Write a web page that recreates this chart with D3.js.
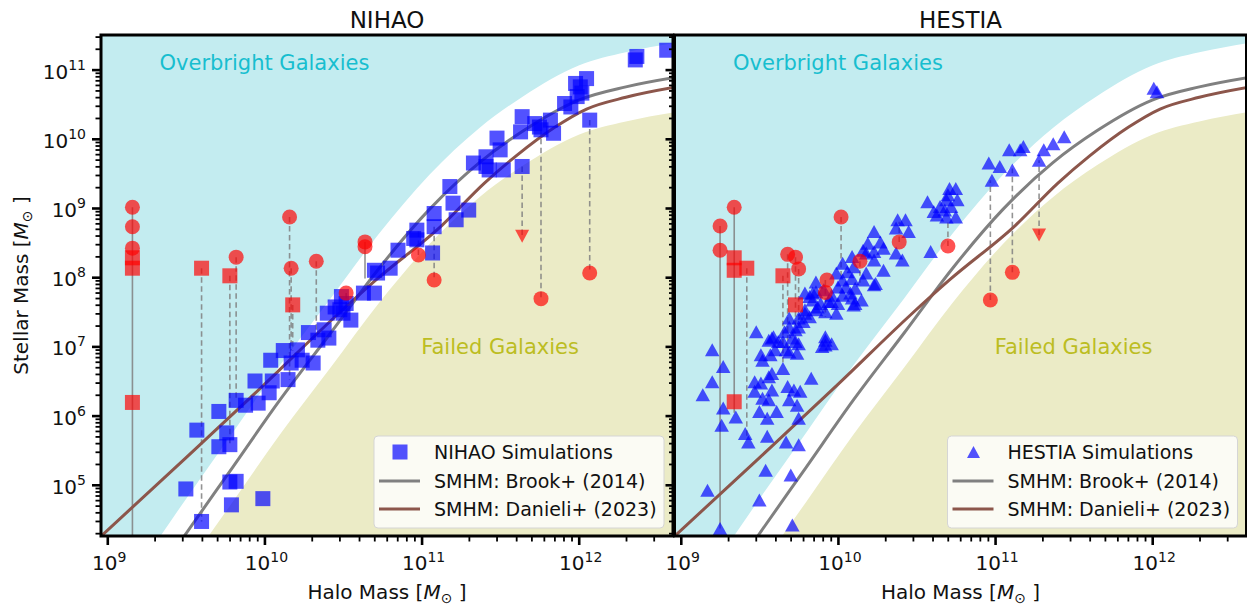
<!DOCTYPE html>
<html><head><meta charset="utf-8">
<script src="https://cdn.jsdelivr.net/npm/d3@7"></script>
<style>
body{margin:0;background:#fff;}
svg{display:block;}
text{font-family:"DejaVu Sans",sans-serif;fill:#111;}
</style>
</head><body>
<svg id="c" width="1247" height="606"></svg>
<script>
// ---------------- DATA (log10 of masses in solar masses) ----------------
const xLimitsLog = [8.96, 12.6];
const yLimitsLog = [4.26, 11.5];
const xMajorExps = [9, 10, 11, 12];
const yMajorExps = [5, 6, 7, 8, 9, 10, 11];
const BAND_DEX = 0.5;

// SMHM: Brook+ (2014)
const brookLogMh = [8.9, 9.2, 9.49, 9.8, 10.1, 10.42, 10.73, 11.05, 11.37, 11.65, 12.0, 12.3, 12.65];
const brookLogMs = [2.31, 3.30, 4.26, 5.26, 6.23, 7.19, 8.13, 8.98, 9.66, 10.12, 10.56, 10.75, 10.90];
// SMHM: Danieli+ (2023)
const danieliLogMh = [8.9, 9.5, 10.0, 10.46, 10.71, 11.13, 11.40, 11.6, 11.85, 12.05, 12.3, 12.65];
const danieliLogMs = [4.13, 5.39, 6.45, 7.45, 7.96, 8.75, 9.36, 9.75, 10.17, 10.43, 10.6, 10.76];

// NIHAO simulations
const nihaoLogMh = [9.50,9.60,9.57,9.71,9.76,9.71,9.78,9.78,9.82,9.79,9.99,9.82,9.88,9.96,9.94,10.03,10.05,10.04,10.12,10.15,10.17,10.21,10.24,10.31,10.28,10.34,10.38,10.41,10.40,10.45,10.48,10.55,10.50,10.49,10.52,10.63,10.70,10.70,10.72,10.80,10.85,10.97,10.95,10.97,11.07,11.08,11.08,11.18,11.20,11.22,11.30,11.33,11.41,11.41,11.43,11.48,11.50,11.52,11.64,11.63,11.64,11.72,11.75,11.82,11.84,11.76,11.91,11.95,11.98,11.99,12.01,12.05,12.02,12.07,12.36,12.37,12.56];
const nihaoLogMs = [4.94,4.47,5.79,6.06,5.75,5.55,5.58,5.04,5.05,4.71,4.80,6.22,6.15,6.18,6.50,6.33,6.50,6.80,6.94,6.52,6.76,6.95,6.80,6.76,7.20,7.09,7.24,7.12,7.48,7.57,7.53,7.38,7.48,7.72,7.62,7.77,7.77,8.10,8.06,8.13,8.39,8.68,8.56,8.54,8.35,8.92,8.73,9.31,9.07,8.83,8.97,9.65,9.74,9.60,9.55,10.01,9.84,9.55,9.60,10.10,10.32,10.22,10.17,10.27,10.08,10.13,10.51,10.46,10.80,10.61,10.75,10.87,10.66,10.27,11.14,11.19,11.28];
// NIHAO panel: observed counterparts (red)
const nihaoObsCircleMh = [9.16,9.16,9.16,9.82,10.16,10.17,10.33,10.52,10.64,10.64,10.98,11.08,11.76,12.07];
const nihaoObsCircleMs = [9.01,8.73,8.42,8.29,8.87,8.13,8.23,7.77,8.51,8.44,8.32,7.96,7.69,8.06];
const nihaoObsSquareMh = [9.16,9.16,9.16,9.60,9.78,10.18];
const nihaoObsSquareMs = [8.28,8.13,6.19,8.13,8.02,7.60];
const nihaoObsLimitMh = [11.64];
const nihaoObsLimitMs = [8.59];
// NIHAO panel: vertical connectors
const nihaoLinkMh   = [9.16,9.60,9.78,9.82,10.16,10.17,10.18,10.33,10.52,10.64,10.98,11.08,11.64,11.76,12.07];
const nihaoLinkFrom = [9.01,8.13,8.02,8.29,8.87,8.13,7.60,8.23,7.77,8.51,8.32,8.73,9.60,10.13,10.27];
const nihaoLinkTo   = [4.0,4.47,5.58,6.22,6.52,6.94,6.94,7.20,7.48,7.98,8.66,7.96,8.59,7.69,8.06];
const nihaoLinkSolid= [1,0,0,0,0,0,0,0,0,1,0,0,0,0,0];

// HESTIA simulations
const hestiaLogMh = [9.20,9.27,9.20,9.14,9.27,9.35,9.26,9.41,9.43,9.17,9.25,9.50,9.54,9.70,9.71,9.55,9.67,9.75,9.47,9.47,9.51,9.57,9.58,9.65,9.68,9.72,9.76,9.69,9.74,9.75,9.52,9.56,9.61,9.50,9.55,9.83,9.74,9.65,9.92,9.96,9.48,9.52,9.58,9.66,9.67,9.73,9.69,9.75,9.84,9.82,9.86,9.91,9.79,9.87,9.92,9.96,9.92,9.90,10.08,10.11,10.23,9.56,9.58,9.51,9.59,9.62,9.56,9.71,9.69,9.60,9.78,9.82,9.69,9.73,9.75,9.86,9.99,9.79,9.84,9.89,9.94,10.00,10.10,9.79,9.96,10.03,10.09,10.15,9.86,10.00,10.05,10.11,9.99,10.03,10.09,10.16,10.03,10.10,10.06,10.18,10.29,10.09,10.16,10.23,10.19,10.27,10.29,10.23,10.24,10.23,10.18,10.41,10.37,10.38,10.43,10.37,10.45,10.59,10.57,10.61,10.63,10.68,10.69,10.71,10.75,10.70,10.76,10.72,10.65,10.75,10.69,10.96,11.03,10.98,11.11,11.09,11.16,11.18,11.28,11.31,11.37,11.44,12.01,12.03,9.75,9.92];
const hestiaLogMs = [6.95,6.71,6.49,6.30,6.11,5.98,5.86,5.74,5.62,4.92,4.37,4.78,5.21,5.14,4.42,5.70,5.62,5.58,6.49,6.35,6.88,6.88,6.61,6.68,6.42,6.37,6.35,6.23,6.15,5.96,6.25,6.23,6.06,6.06,5.96,6.54,6.90,7.07,7.02,7.04,7.21,6.80,7.12,7.21,6.95,7.07,7.41,7.28,7.77,7.72,7.79,7.82,7.48,7.57,7.50,7.65,7.09,7.00,7.77,7.62,7.89,6.56,6.37,6.47,7.14,7.07,7.09,7.12,6.92,6.95,7.36,7.43,7.28,7.24,7.41,7.53,7.48,7.53,7.67,7.62,7.65,7.62,7.60,7.77,7.74,7.74,7.70,7.67,7.93,7.86,7.86,7.84,8.06,7.96,7.98,7.96,8.20,8.15,8.08,8.06,8.10,8.30,8.39,8.37,8.49,8.51,8.42,8.66,7.91,8.25,8.35,8.25,8.35,8.83,8.83,8.71,8.66,8.37,9.09,8.95,8.90,8.97,9.12,9.28,9.28,9.19,9.12,9.02,9.02,8.87,8.87,9.65,9.60,9.40,9.55,9.84,9.84,9.89,9.69,9.84,9.93,10.03,10.73,10.68,7.04,7.14];
// HESTIA panel: observed counterparts (red)
const hestiaObsCircleMh = [9.25,9.34,9.25,9.68,9.73,9.75,10.02,9.93,9.92,10.14,10.39,10.70,10.97,11.11];
const hestiaObsCircleMs = [8.74,9.01,8.39,8.33,8.29,8.12,8.87,7.96,7.78,8.23,8.51,8.45,7.67,8.07];
const hestiaObsSquareMh = [9.34,9.34,9.42,9.65,9.73,9.34];
const hestiaObsSquareMs = [8.28,8.10,8.13,8.02,7.60,6.20];
const hestiaObsLimitMh = [11.28];
const hestiaObsLimitMs = [8.61];
// HESTIA panel: vertical connectors
const hestiaLinkMh   = [9.25,9.34,9.42,9.65,9.68,9.73,9.75,9.92,10.02,10.14,10.39,10.70,10.97,11.11,11.28];
const hestiaLinkFrom = [8.74,9.01,8.13,8.02,8.33,8.29,8.12,7.96,8.87,8.23,8.51,8.45,7.67,8.07,8.61];
const hestiaLinkTo   = [4.37,6.04,5.70,6.75,6.90,7.28,7.30,7.43,7.96,7.92,8.80,8.83,9.40,9.57,9.69];
const hestiaLinkSolid= [1,1,0,0,0,0,0,0,0,0,0,0,0,0,0];

const legendLabels = ["Simulations", "SMHM: Brook+ (2014)", "SMHM: Danieli+ (2023)"];

// ---------------- STYLE / LAYOUT ----------------
const TOP = 35, BOTTOM = 536;
const C_CYAN_FILL = "#c3ecf0", C_OLIVE_FILL = "#ebebc6";
const C_CYAN_TEXT = "#17becf", C_OLIVE_TEXT = "#bcbd22";
const C_GREY = "#808080", C_BROWN = "#8c564b";
const C_BLUE = "#0000ff", C_RED = "#ff0000";

const svg = d3.select("#c");
const defs = svg.append("defs");

const zip = (a, b) => a.map((v, i) => [v, b[i]]);

function triPath(w, h, down) {
  const s = down ? -1 : 1;
  return `M0,${-s*h/2}L${w/2},${s*h/2}L${-w/2},${s*h/2}Z`;
}

const panels = [
  {id: "nihao", title: "NIHAO", x0: 101, x1: 673, yLabels: true, marker: "square",
   simMh: nihaoLogMh, simMs: nihaoLogMs,
   cMh: nihaoObsCircleMh, cMs: nihaoObsCircleMs, sMh: nihaoObsSquareMh, sMs: nihaoObsSquareMs,
   tMh: nihaoObsLimitMh, tMs: nihaoObsLimitMs,
   lMh: nihaoLinkMh, lFrom: nihaoLinkFrom, lTo: nihaoLinkTo, lSolid: nihaoLinkSolid},
  {id: "hestia", title: "HESTIA", x0: 674.5, x1: 1246.5, yLabels: false, marker: "triangle",
   simMh: hestiaLogMh, simMs: hestiaLogMs,
   cMh: hestiaObsCircleMh, cMs: hestiaObsCircleMs, sMh: hestiaObsSquareMh, sMs: hestiaObsSquareMs,
   tMh: hestiaObsLimitMh, tMs: hestiaObsLimitMs,
   lMh: hestiaLinkMh, lFrom: hestiaLinkFrom, lTo: hestiaLinkTo, lSolid: hestiaLinkSolid}
];

function drawPanel(p) {
  const x = d3.scaleLog().domain(xLimitsLog.map(v => 10 ** v)).range([p.x0, p.x1]);
  const y = d3.scaleLog().domain(yLimitsLog.map(v => 10 ** v)).range([BOTTOM, TOP]);
  const X = v => x(10 ** v), Y = v => y(10 ** v);

  const clipId = "clip-" + p.id;
  defs.append("clipPath").attr("id", clipId).append("rect")
    .attr("x", p.x0).attr("y", TOP).attr("width", p.x1 - p.x0).attr("height", BOTTOM - TOP);

  const g = svg.append("g");
  const pg = g.append("g").attr("clip-path", `url(#${clipId})`);

  pg.append("rect").attr("x", p.x0).attr("y", TOP).attr("width", p.x1 - p.x0)
    .attr("height", BOTTOM - TOP).attr("fill", "#fff");

  const brook = zip(brookLogMh, brookLogMs);
  const dani = zip(danieliLogMh, danieliLogMs);

  // shaded regions (Brook +/- band)
  pg.append("path").datum(brook)
    .attr("d", d3.area().x(d => X(d[0])).y0(y.range()[1]).y1(d => Y(d[1] + BAND_DEX)).curve(d3.curveMonotoneX))
    .attr("fill", C_CYAN_FILL);
  pg.append("path").datum(brook)
    .attr("d", d3.area().x(d => X(d[0])).y0(y.range()[0]).y1(d => Y(d[1] - BAND_DEX)).curve(d3.curveMonotoneX))
    .attr("fill", C_OLIVE_FILL);

  // region labels
  pg.append("text").attr("x", X(10)).attr("y", Y(11)).attr("text-anchor", "middle")
    .attr("font-size", 21).style("fill", C_CYAN_TEXT).text("Overbright Galaxies");
  pg.append("text").attr("x", X(11.5)).attr("y", Y(7) + 7.5).attr("text-anchor", "middle")
    .attr("font-size", 21).style("fill", C_OLIVE_TEXT).text("Failed Galaxies");

  // connectors
  const links = p.lMh.map((m, i) => ({m, a: p.lFrom[i], b: p.lTo[i], solid: p.lSolid[i]}));
  pg.selectAll("line.link").data(links).join("line").attr("class", "link")
    .attr("x1", d => X(d.m)).attr("x2", d => X(d.m))
    .attr("y1", d => Y(d.a)).attr("y2", d => Y(d.b))
    .attr("stroke", C_GREY).attr("stroke-width", 1.6).attr("stroke-opacity", 0.85)
    .attr("stroke-dasharray", d => d.solid ? null : "5.5,3.5");

  // SMHM curves
  const line = d3.line().x(d => X(d[0])).y(d => Y(d[1])).curve(d3.curveMonotoneX);
  pg.append("path").datum(brook).attr("d", line).attr("fill", "none")
    .attr("stroke", C_GREY).attr("stroke-width", 3);
  pg.append("path").datum(dani).attr("d", line).attr("fill", "none")
    .attr("stroke", C_BROWN).attr("stroke-width", 3);

  // simulations
  const sims = zip(p.simMh, p.simMs);
  if (p.marker === "square") {
    pg.selectAll("rect.sim").data(sims).join("rect").attr("class", "sim")
      .attr("x", d => X(d[0]) - 7.5).attr("y", d => Y(d[1]) - 7.5)
      .attr("width", 15).attr("height", 15)
      .attr("fill", C_BLUE).attr("fill-opacity", 0.68);
  } else {
    pg.selectAll("path.sim").data(sims).join("path").attr("class", "sim")
      .attr("d", triPath(14.5, 13, false))
      .attr("transform", d => `translate(${X(d[0])},${Y(d[1])})`)
      .attr("fill", C_BLUE).attr("fill-opacity", 0.68);
  }

  // observations (red)
  pg.selectAll("circle.obs").data(zip(p.cMh, p.cMs)).join("circle").attr("class", "obs")
    .attr("cx", d => X(d[0])).attr("cy", d => Y(d[1])).attr("r", 7.5)
    .attr("fill", C_RED).attr("fill-opacity", 0.68);
  pg.selectAll("rect.obs").data(zip(p.sMh, p.sMs)).join("rect").attr("class", "obs")
    .attr("x", d => X(d[0]) - 7.5).attr("y", d => Y(d[1]) - 7.5).attr("width", 15).attr("height", 15)
    .attr("fill", C_RED).attr("fill-opacity", 0.68);
  pg.selectAll("path.obs").data(zip(p.tMh, p.tMs)).join("path").attr("class", "obs")
    .attr("d", triPath(14, 13, true))
    .attr("transform", d => `translate(${X(d[0])},${Y(d[1])})`)
    .attr("fill", C_RED).attr("fill-opacity", 0.68);

  // axes ticks
  const xMinor = [], yMinor = [];
  for (let k = 8; k <= 12; k++) for (let m = 2; m <= 9; m++) {
    const v = m * 10 ** k;
    if (Math.log10(v) > xLimitsLog[0] && Math.log10(v) < xLimitsLog[1]) xMinor.push(v);
  }
  for (let k = 4; k <= 11; k++) for (let m = 2; m <= 9; m++) {
    const v = m * 10 ** k;
    if (Math.log10(v) > yLimitsLog[0] && Math.log10(v) < yLimitsLog[1]) yMinor.push(v);
  }
  const ax = g.append("g");
  const tick = (sel) => { sel.select(".domain").remove(); sel.selectAll("text").remove(); sel.selectAll("line").attr("stroke", "#000"); };
  ax.append("g").attr("transform", `translate(0,${BOTTOM})`)
    .call(d3.axisBottom(x).tickValues(xMinor).tickSize(5.5).tickFormat(""))
    .call(tick).selectAll("line").attr("stroke-width", 1.8);
  ax.append("g").attr("transform", `translate(0,${BOTTOM})`)
    .call(d3.axisBottom(x).tickValues(xMajorExps.map(e => 10 ** e)).tickSize(9).tickFormat(""))
    .call(tick).selectAll("line").attr("stroke-width", 2.6);
  ax.append("g").attr("transform", `translate(${p.x0},0)`)
    .call(d3.axisLeft(y).tickValues(yMinor).tickSize(5.5).tickFormat(""))
    .call(tick).selectAll("line").attr("stroke-width", 1.8);
  ax.append("g").attr("transform", `translate(${p.x0},0)`)
    .call(d3.axisLeft(y).tickValues(yMajorExps.map(e => 10 ** e)).tickSize(9).tickFormat(""))
    .call(tick).selectAll("line").attr("stroke-width", 2.6);

  // tick labels
  const xt = ax.selectAll("text.xt").data(xMajorExps).join("text").attr("class", "xt")
    .attr("x", d => x(10 ** d) + 2).attr("y", 570).attr("text-anchor", "middle").attr("font-size", 20);
  xt.append("tspan").text("10");
  xt.append("tspan").attr("dy", -8).attr("font-size", 14).text(d => d);
  if (p.yLabels) {
    const yt = ax.selectAll("text.yt").data(yMajorExps).join("text").attr("class", "yt")
      .attr("x", p.x0 - 15).attr("y", d => y(10 ** d) + 9).attr("text-anchor", "end").attr("font-size", 20);
    yt.append("tspan").text("10");
    yt.append("tspan").attr("dy", -9).attr("font-size", 14).text(d => d);
  }

  // frame
  g.append("rect").attr("x", p.x0).attr("y", TOP).attr("width", p.x1 - p.x0).attr("height", BOTTOM - TOP)
    .attr("fill", "none").attr("stroke", "#000").attr("stroke-width", 3);

  // title and x label
  const cx = (p.x0 + p.x1) / 2;
  g.append("text").attr("x", cx).attr("y", 28).attr("text-anchor", "middle").attr("font-size", 23).text(p.title);
  const xl = g.append("text").attr("x", cx).attr("y", 599).attr("text-anchor", "middle").attr("font-size", 20);
  xl.append("tspan").text("Halo Mass [");
  xl.append("tspan").attr("font-style", "italic").text("M");
  xl.append("tspan").attr("font-size", 14).attr("dy", 4).text("\u2299");
  xl.append("tspan").attr("dy", -4).text(" ]");

  // legend
  const lx = p.x1 - 299, ly = 436, lw = 290, lh = 92;
  const lg = g.append("g");
  lg.append("rect").attr("x", lx).attr("y", ly).attr("width", lw).attr("height", lh).attr("rx", 4)
    .attr("fill", "#fff").attr("fill-opacity", 0.8).attr("stroke", "#d5d5d5").attr("stroke-width", 1);
  const rows = [ly + 16, ly + 45, ly + 73];
  const mx = lx + 26;
  if (p.marker === "square") {
    lg.append("rect").attr("x", mx - 7.5).attr("y", rows[0] - 7.5).attr("width", 15).attr("height", 15)
      .attr("fill", C_BLUE).attr("fill-opacity", 0.68);
  } else {
    lg.append("path").attr("d", triPath(13, 12, false)).attr("transform", `translate(${mx},${rows[0]})`)
      .attr("fill", C_BLUE).attr("fill-opacity", 0.68);
  }
  lg.append("line").attr("x1", lx + 5).attr("x2", lx + 46).attr("y1", rows[1]).attr("y2", rows[1])
    .attr("stroke", C_GREY).attr("stroke-width", 3);
  lg.append("line").attr("x1", lx + 5).attr("x2", lx + 46).attr("y1", rows[2]).attr("y2", rows[2])
    .attr("stroke", C_BROWN).attr("stroke-width", 3);
  const texts = [p.title + " " + legendLabels[0], legendLabels[1], legendLabels[2]];
  lg.selectAll("text.lt").data(texts).join("text").attr("class", "lt")
    .attr("x", lx + 60).attr("y", (d, i) => rows[i] + 7).attr("font-size", 19).text(d => d);
}

panels.forEach(drawPanel);

// y label
const yl = svg.append("text").attr("transform", `translate(28,${(TOP + BOTTOM) / 2}) rotate(-90)`)
  .attr("text-anchor", "middle").attr("font-size", 20);
yl.append("tspan").text("Stellar Mass [");
yl.append("tspan").attr("font-style", "italic").text("M");
yl.append("tspan").attr("font-size", 14).attr("dy", 4).text("\u2299");
yl.append("tspan").attr("dy", -4).text(" ]");
</script>
</body></html>
